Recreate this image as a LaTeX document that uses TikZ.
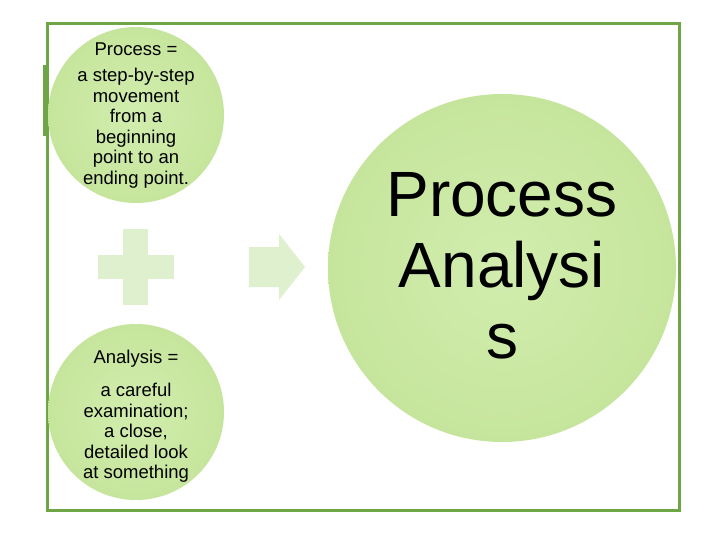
\documentclass[tikz,border=0pt]{standalone}
\usepackage{fontspec}
\setmainfont{Liberation Sans}
\definecolor{frame}{HTML}{6FA645}
\definecolor{cfill}{HTML}{D2EDAE}
\definecolor{cfill2}{HTML}{C6E59C}
\definecolor{pale}{HTML}{DFF0CF}
\tikzset{
  circ/.style={circle, inner sep=0pt, shading=radial, inner color=cfill, outer color=cfill2},
  small/.style={align=center, font=\fontsize{18.5}{20.5}\selectfont},
}
\begin{document}
\begin{tikzpicture}[x=1pt,y=-1pt]
\useasboundingbox (0,0) rectangle (720,540);
\fill[white] (0,0) rectangle (720,540);
\draw[frame, line width=3pt] (47,24) rectangle (679,510);
\fill[frame] (43,65) rectangle (48,136);
\node[circ, minimum size=176pt] (p) at (136,115) {};
\node[circ, minimum size=176pt] (a) at (136,412) {};
\node[circ, minimum size=348pt] (pa) at (502,268) {};
\node[small] (pt) at (136,49) {Process =};
\node[small] (pd) at (136,128) {a step-by-step\\movement\\from a\\beginning\\point to an\\ending point.};
\node[small] (at) at (136,359) {Analysis =};
\node[small] (ad) at (136,433) {a careful\\examination;\\a close,\\detailed look\\at something};
\node[align=center, font=\fontsize{64}{71}\selectfont] (pat) at (502,266) {Process\\Analysi\\s};
\fill[pale] (123,229) rectangle (148,305);
\fill[pale] (98,255) rectangle (174,279);
\fill[pale] (249,247) -- (279,247) -- (279,234) -- (305,267) -- (279,300) -- (279,287) -- (249,287) -- cycle;
\end{tikzpicture}
\end{document}
